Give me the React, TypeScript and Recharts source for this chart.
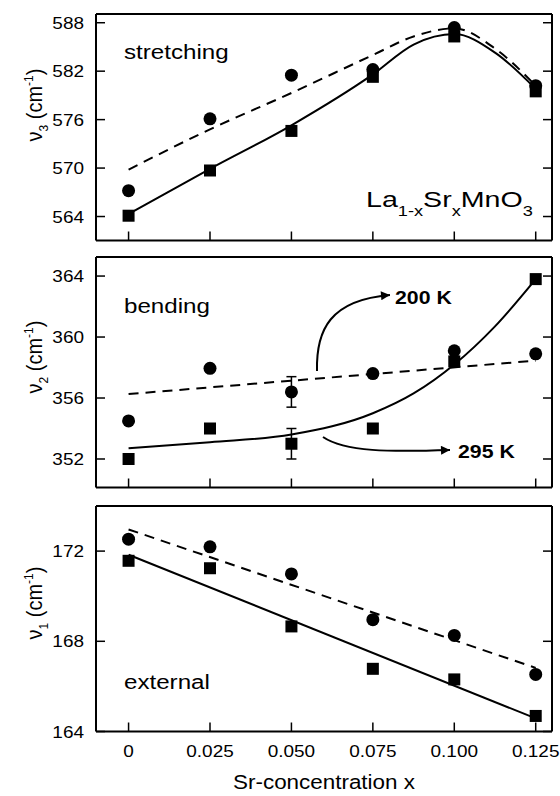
import React from "react";
import { ComposedChart, Line, Scatter, XAxis, YAxis, ErrorBar } from "recharts";

const W = 560;
const H = 796;
const FONT = "'Liberation Sans', Arial, Helvetica, sans-serif";
const SX = 1.15; // the original figure is a bit stretched sideways
const PLOT_LEFT = 96;
const PLOT_RIGHT = 552;
const TICK = 9;

// Sr-concentration x
const SR_X = [0, 0.025, 0.05, 0.075, 0.1, 0.125];
const SR_TICK_LABELS = ["0", "0.025", "0.050", "0.075", "0.100", "0.125"];
const X_DOMAIN = [-0.01, 0.13];
const FIT_X = [0, 0.025, 0.05, 0.075, 0.0875, 0.1, 0.1125, 0.125];
const LINE_X = [0, 0.125];

// v3, stretching
const NU3_TICKS = [564, 570, 576, 582, 588];
const NU3_200K = [567.2, 576.1, 581.5, 582.2, 587.4, 580.2];
const NU3_295K = [564.1, 569.7, 574.6, 581.3, 586.3, 579.5];
const NU3_FIT_200K = [569.8, 574.8, 579.3, 584.0, 586.3, 587.3, 584.8, 580.2];
const NU3_FIT_295K = [564.3, 569.9, 575.3, 581.6, 585.3, 586.6, 584.3, 579.8];

// v2, bending
const NU2_TICKS = [352, 356, 360, 364];
const NU2_200K = [354.5, 357.95, 356.4, 357.6, 359.1, 358.9];
const NU2_295K = [352.0, 354.0, 353.0, 354.0, 358.4, 363.8];
const NU2_ERR_200K = [0, 0, 1.0, 0, 0, 0];
const NU2_ERR_295K = [0, 0, 1.0, 0, 0, 0];
const NU2_FIT_200K = [356.26, 358.45];
const NU2_FIT_295K = [352.7, 353.1, 353.6, 355.0, 356.3, 358.2, 360.7, 363.8];

// v1, external
const NU1_TICKS = [164, 168, 172];
const NU1_200K = [172.53, 172.19, 170.99, 168.96, 168.26, 166.53];
const NU1_295K = [171.57, 171.24, 168.66, 166.78, 166.31, 164.69];
const NU1_FIT_200K = [172.96, 166.82];
const NU1_FIT_295K = [171.84, 164.58];

const pts = (xs: number[], ys: number[], errs?: number[]) =>
  xs.map((x, i) => ({ x, y: ys[i], err: errs ? errs[i] : 0 }));

const AXIS = { stroke: "#000", strokeWidth: 2 };

const Dot = (p: any) => <circle cx={p.cx} cy={p.cy} r={6.5} fill="#000" />;
const Sq = (p: any) => <rect x={p.cx - 6} y={p.cy - 6} width={12} height={12} fill="#000" />;

const T = ({ x, y, size, children, anchor = "start", weight = "normal", sx = SX }: any) => (
  <text
    transform={`translate(${x},${y}) scale(${sx},1)`}
    fontSize={size}
    fontFamily={FONT}
    textAnchor={anchor}
    fontWeight={weight}
    fill="#000"
  >
    {children}
  </text>
);

type PanelProps = {
  top: number;
  bottom: number;
  domain: number[];
  ticks: number[];
  circles: any[];
  squares: any[];
  fitDashed: any[];
  fitSolid: any[];
  curveType: "monotone" | "linear";
  dashedType: "monotone" | "linear";
  errors?: boolean;
  xLabels?: boolean;
};

// axes get 1px of room each (recharts skips zero-size axes)
const Panel = ({ top, bottom, domain, ticks, circles, squares, fitDashed, fitSolid, curveType, dashedType, errors, xLabels }: PanelProps) => (
  <div style={{ position: "absolute", left: 0, top: 0 }}>
    <ComposedChart
      width={W}
      height={H}
      margin={{ top: top - 1, bottom: H - bottom - 1, left: PLOT_LEFT - 1, right: W - PLOT_RIGHT - 1 }}
    >
      <XAxis
        type="number"
        dataKey="x"
        domain={X_DOMAIN}
        ticks={SR_X}
        interval={0}
        allowDataOverflow
        height={1}
        tickSize={0}
        tickMargin={0}
        axisLine={AXIS}
        tickLine={false}
        tick={(p: any) => (
          <g>
            <line x1={p.x} x2={p.x} y1={bottom} y2={bottom - TICK} stroke="#000" strokeWidth={1.5} />
            {xLabels && (
              <T x={p.x} y={bottom + 25} size={16.5} anchor="middle">
                {SR_TICK_LABELS[SR_X.indexOf(p.payload.value)]}
              </T>
            )}
          </g>
        )}
      />
      <XAxis
        xAxisId="top"
        orientation="top"
        type="number"
        domain={X_DOMAIN}
        ticks={SR_X}
        interval={0}
        allowDataOverflow
        height={1}
        tickSize={0}
        tickMargin={0}
        axisLine={AXIS}
        tickLine={false}
        tick={(p: any) => (
          <line x1={p.x} x2={p.x} y1={top} y2={top + TICK} stroke="#000" strokeWidth={1.5} />
        )}
      />
      <YAxis
        type="number"
        domain={domain}
        ticks={ticks}
        interval={0}
        allowDataOverflow
        width={1}
        tickSize={0}
        tickMargin={0}
        axisLine={AXIS}
        tickLine={false}
        tick={(p: any) => (
          <g>
            <line x1={PLOT_LEFT} x2={PLOT_LEFT + TICK} y1={p.y} y2={p.y} stroke="#000" strokeWidth={1.5} />
            <T x={PLOT_LEFT - 12} y={p.y + 6} size={16.5} anchor="end">
              {p.payload.value}
            </T>
          </g>
        )}
      />
      <YAxis
        yAxisId="right"
        orientation="right"
        type="number"
        domain={domain}
        ticks={ticks}
        interval={0}
        allowDataOverflow
        width={1}
        tickSize={0}
        tickMargin={0}
        axisLine={AXIS}
        tickLine={false}
        tick={(p: any) => (
          <line x1={PLOT_RIGHT} x2={PLOT_RIGHT - TICK} y1={p.y} y2={p.y} stroke="#000" strokeWidth={1.5} />
        )}
      />
      <Line
        data={fitDashed}
        dataKey="y"
        type={dashedType}
        stroke="#000"
        strokeWidth={2}
        strokeDasharray="10 7"
        dot={false}
        isAnimationActive={false}
      />
      <Line
        data={fitSolid}
        dataKey="y"
        type={curveType}
        stroke="#000"
        strokeWidth={2}
        dot={false}
        isAnimationActive={false}
      />
      <Scatter data={circles} dataKey="y" shape={Dot} isAnimationActive={false}>
        {errors && <ErrorBar dataKey="err" direction="y" width={5} stroke="#000" strokeWidth={1.5} />}
      </Scatter>
      <Scatter data={squares} dataKey="y" shape={Sq} isAnimationActive={false}>
        {errors && <ErrorBar dataKey="err" direction="y" width={5} stroke="#000" strokeWidth={1.5} />}
      </Scatter>
    </ComposedChart>
  </div>
);

const YLabel = ({ cy, sub }: { cy: number; sub: string }) => (
  <text
    transform={`translate(42,${cy}) rotate(-90) scale(1,1.1)`}
    textAnchor="middle"
    fontSize={20}
    fontFamily={FONT}
    fill="#000"
  >
    ν<tspan fontSize={12} dy={5}>{sub}</tspan>
    <tspan dy={-5}> (cm</tspan>
    <tspan fontSize={12} dy={-8}>-1</tspan>
    <tspan dy={8}>)</tspan>
  </text>
);

export default function App() {
  return (
    <div style={{ position: "absolute", left: 0, top: 0, width: W, height: H, background: "#fff" }}>
      <Panel
        top={14}
        bottom={240.5}
        domain={[561.03, 589.08]}
        ticks={NU3_TICKS}
        circles={pts(SR_X, NU3_200K)}
        squares={pts(SR_X, NU3_295K)}
        fitDashed={pts(FIT_X, NU3_FIT_200K)}
        fitSolid={pts(FIT_X, NU3_FIT_295K)}
        curveType="monotone"
        dashedType="monotone"
      />
      <Panel
        top={257}
        bottom={487.5}
        domain={[350.13, 365.25]}
        ticks={NU2_TICKS}
        circles={pts(SR_X, NU2_200K, NU2_ERR_200K)}
        squares={pts(SR_X, NU2_295K, NU2_ERR_295K)}
        fitDashed={pts(LINE_X, NU2_FIT_200K)}
        fitSolid={pts(FIT_X, NU2_FIT_295K)}
        curveType="monotone"
        dashedType="linear"
        errors
      />
      <Panel
        top={506}
        bottom={731.5}
        domain={[164, 174]}
        ticks={NU1_TICKS}
        circles={pts(SR_X, NU1_200K)}
        squares={pts(SR_X, NU1_295K)}
        fitDashed={pts(LINE_X, NU1_FIT_200K)}
        fitSolid={pts(LINE_X, NU1_FIT_295K)}
        curveType="linear"
        dashedType="linear"
        xLabels
      />
      <svg
        width={W}
        height={H}
        style={{ position: "absolute", left: 0, top: 0, pointerEvents: "none" }}
      >
        <defs>
          <marker
            id="head"
            viewBox="0 0 10 10"
            refX={10}
            refY={5}
            markerWidth={14}
            markerHeight={9}
            markerUnits="userSpaceOnUse"
            orient="auto"
          >
            <path d="M0,0 L10,5 L0,10 z" fill="#000" />
          </marker>
        </defs>
        <T x={124} y={59} size={21}>stretching</T>
        <T x={124} y={313} size={21}>bending</T>
        <T x={124} y={689} size={21}>external</T>
        <text transform="translate(366,207) scale(1.3,1)" fontSize={22} fontFamily={FONT} fill="#000">
          La<tspan fontSize={14} dy={9}>1-x</tspan>
          <tspan dy={-9}>Sr</tspan>
          <tspan fontSize={14} dy={9}>x</tspan>
          <tspan dy={-9}>MnO</tspan>
          <tspan fontSize={14} dy={9}>3</tspan>
        </text>
        <path d="M317,371 C316,330 330,300 390,295" fill="none" stroke="#000" strokeWidth={2} markerEnd="url(#head)" />
        <path d="M323,437 C345,452 390,452 450,450" fill="none" stroke="#000" strokeWidth={2} markerEnd="url(#head)" />
        <T x={395} y={304} size={18.5} weight="bold">200 K</T>
        <T x={458} y={458} size={18.5} weight="bold">295 K</T>
        <YLabel cy={105} sub="3" />
        <YLabel cy={357} sub="2" />
        <YLabel cy={603} sub="1" />
        <T x={324} y={789} size={19.5} anchor="middle">Sr-concentration x</T>
      </svg>
    </div>
  );
}
